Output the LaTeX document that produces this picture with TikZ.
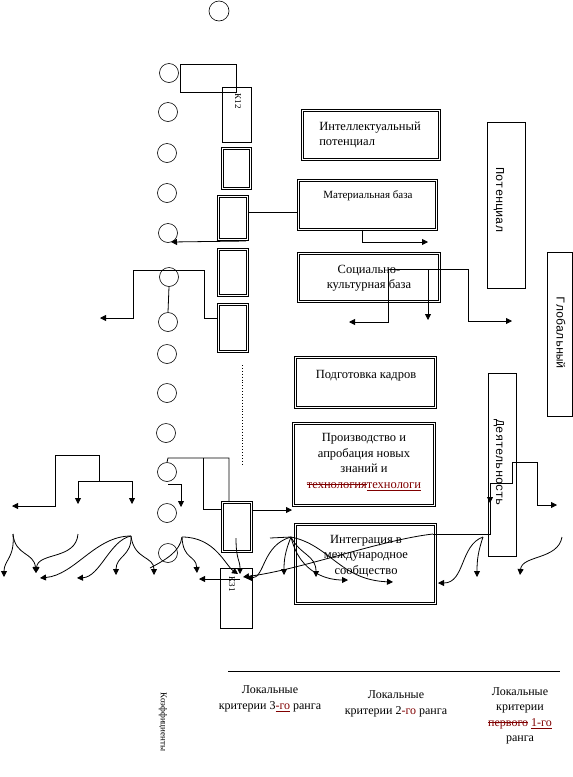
\documentclass[tikz,border=0pt]{standalone}
\usepackage{fontspec}
\setmainfont{Liberation Serif}
\newfontfamily\monof{Liberation Mono}
\usetikzlibrary{arrows.meta,calc}
\definecolor{dred}{RGB}{128,0,0}
\newsavebox\mytbox
\newcommand\mysout[1]{\sbox\mytbox{#1}\rlap{\rule[0.3em]{\wd\mytbox}{0.6pt}}\usebox\mytbox}
\newcommand\myuline[1]{\sbox\mytbox{#1}\rlap{\rule[-0.17em]{\wd\mytbox}{0.6pt}}\usebox\mytbox}
\begin{document}
\begin{tikzpicture}[x=1pt,y=-1pt,
  circ/.style={draw,circle,minimum size=19pt,inner sep=0pt,line width=0.6pt},
  sbox/.style={draw,rectangle,inner sep=0pt,line width=0.7pt},
  dbox/.style={draw,rectangle,inner sep=0pt,double,double distance=1.3pt,line width=0.7pt},
  ln/.style={line width=0.8pt},
  ar/.style={ln,-{Triangle[width=6pt,length=6pt]}},
  txt/.style={font=\fontsize{12.5}{15.5}\selectfont,align=center,inner sep=0pt},
  stxt/.style={font=\fontsize{11}{13}\selectfont,align=center,inner sep=0pt},
  vtxt/.style={font=\monof\fontsize{12}{14}\selectfont,rotate=-90,inner sep=0pt},
  btxt/.style={font=\fontsize{12}{15.5}\selectfont,align=center,inner sep=0pt}
]
\useasboundingbox (0,0) rectangle (573,777);

% circles
\node[circ,minimum size=20pt] (c0) at (219,11) {};
\node[circ] (c1) at (169,73) {};
\node[circ] (c2) at (168,112) {};
\node[circ] (c3) at (167,153) {};
\node[circ] (c4) at (167,193) {};
\node[circ] (c5) at (168,233) {};
\node[circ] (c6) at (169,277) {};
\node[circ] (c7) at (168,322) {};
\node[circ] (c8) at (167,354) {};
\node[circ] (c9) at (167,393) {};
\node[circ] (c10) at (166,433) {};
\node[circ] (c11) at (167,472) {};
\node[circ] (c12) at (167,513) {};
\node[circ] (c13) at (168,553) {};

% small boxes
\node[sbox,minimum width=56pt,minimum height=28pt] (R1) at (208,78) {};
\node[sbox,minimum width=29pt,minimum height=55pt] (R2) at (236.5,114.5) {};
\node[font=\fontsize{9}{10}\selectfont,rotate=-90,inner sep=0pt] (R2t) at (238,101) {К12};
\node[dbox,minimum width=28pt,minimum height=40pt] (R3) at (236.5,168.5) {};
\node[dbox,minimum width=29pt,minimum height=43pt] (R4) at (233,218) {};
\node[dbox,minimum width=29pt,minimum height=46pt] (R5) at (233,272.5) {};
\node[dbox,minimum width=29pt,minimum height=47pt] (R6) at (233,328) {};
\node[dbox,minimum width=29pt,minimum height=49pt] (R7) at (237,527) {};
\node[sbox,minimum width=32pt,minimum height=60pt] (R8) at (236,598) {};
\node[font=\fontsize{9}{10}\selectfont,rotate=-90,inner sep=0pt] (R8t) at (232,584) {К31};

% right boxes
\node[dbox,minimum width=137pt,minimum height=49pt] (B1) at (371,135) {};
\node[txt,align=left] (B1t) at (370,135) {Интеллектуальный\\потенциал};
\node[dbox,minimum width=138pt,minimum height=49pt] (B2) at (367.5,205) {};
\node[stxt] (B2t) at (368,196) {Материальная база};
\node[dbox,minimum width=141pt,minimum height=48pt] (B3) at (369,277.5) {};
\node[txt] (B3t) at (369,278) {Социально-\\культурная база};
\node[dbox,minimum width=140pt,minimum height=50pt] (B4) at (365.5,382.5) {};
\node[txt] (B4t) at (366,376) {Подготовка кадров};
\node[dbox,minimum width=141pt,minimum height=82pt] (B5) at (364,464.5) {};
\node[txt] (B5t) at (364,462) {Производство и\\апробация новых\\знаний и\\{\color{dred}\mysout{технология}\myuline{технологи}}};
\node[dbox,minimum width=140pt,minimum height=79pt] (B6) at (365.5,564) {};
\node[txt] (B6t) at (366,556) {Интеграция в\\международное\\сообщество};

% tall boxes
\node[sbox,minimum width=38pt,minimum height=166pt] (P) at (506,205) {};
\node[vtxt] (Pt) at (499,200) {Потенциал};
\node[sbox,minimum width=25pt,minimum height=164pt] (G) at (559.5,334) {};
\node[vtxt] (Gt) at (561,333) {Глобальный};
\node[sbox,minimum width=28pt,minimum height=183pt] (D) at (502,464.5) {};
\node[vtxt] (Dt) at (499,463) {Деятельность};

% bottom
\coordinate (L1) at (228,671);
\coordinate (L2) at (560,671);
\draw[line width=0.8pt] (L1) -- (L2);
\node[btxt] (T3) at (270,699) {Локальные\\критерии 3{\color{dred}\myuline{-го}} ранга};
\node[btxt] (T2) at (396,704) {Локальные\\критерии 2{\color{dred}-го} ранга};
\node[btxt] (T1) at (520,716) {Локальные\\критерии\\{\color{dred}\mysout{первого}~\myuline{1-го}}\\ранга};
\node[font=\fontsize{9}{10}\selectfont,rotate=-90,inner sep=0pt] (K) at (163,722) {Коэффициенты};

% dotted
\coordinate (d1) at (242,365);
\coordinate (d2) at (242,465);
\draw[dotted,line width=0.9pt] (d1) -- (d2);

% connectors upper
\draw[ln] (R4.east |- 0,212) -- (B2.west |- 0,212);
\draw[ar] (B2.south -| 362,0) |- (428,242);
\draw[ar] (246,241) -- (171,242);
\coordinate (j1) at (133,270);
\coordinate (j2) at (204,270);
\draw[ln] (j1) -- (j2) -- (204,318) -- (R6.west |- 0,318);
\draw[ar] (j1) -- (133,318) -- (100,318);
\draw[ln] (c6.south) -- (c7.north);
\coordinate (s1) at (388,269);
\coordinate (s2) at (468,269);
\draw[ln] (s1) -- (s2);
\draw[ar] (s1) -- (388,322) -- (349,322);
\draw[ar] (428,269) -- (428,320);
\draw[ar] (s2) -- (468,321) -- (512,321);

% connectors lower
\coordinate (k1) at (168,458);
\draw[ln] (c11.north) -- (k1) -- (229,458) -- (R7.north -| 229,0);
\draw[ln] (203,458) -- (203,509) -- (R7.west |- 0,509);
\draw[ar] (168,484) -- (181,484) -- (181,507);
\draw[ar] (R7.east |- 0,510) -- (292,510);

\draw[ln] (55,455) -- (99,455) -- (99,481);
\draw[ar] (55,455) -- (55,506) -- (12,506);
\draw[ln] (78,481) -- (132,481);
\draw[ar] (78,481) -- (78,504);
\draw[ar] (132,481) -- (132,504);

\draw[ar] (512,462) -- (537,462) -- (537,505) -- (557,505);
\draw[ln] (512,462) -- (512,483) -- (490,483) -- (490,534) -- (433,534);
\draw[ar] (490,490) -- (490,503);
\draw[ar] (433,534) .. controls (380,540) and (300,570) .. (243,577);

% curly arrows
\coordinate (h0) at (13,534);
\coordinate (h1) at (78,534);
\coordinate (h2) at (131,536);
\coordinate (h3) at (182,537);
\coordinate (h4) at (236,538);
\coordinate (h5) at (291,537);
\coordinate (h6) at (483,537);
\coordinate (h7) at (562,537);
\draw[ar] (h0) .. controls (15,558) and (4,560) .. (4,577);
\draw[ar] (h0) .. controls (15,556) and (34,552) .. (36,573);
\draw[ar] (h1) .. controls (76,560) and (38,552) .. (36,573);
\draw[ar] (h2) .. controls (95,536) and (75,575) .. (40,578);
\draw[ar] (h2) .. controls (110,540) and (100,577) .. (77,578);
\draw[ar] (h2) .. controls (132,556) and (116,556) .. (116,575);
\draw[ar] (h2) .. controls (134,560) and (154,556) .. (154,575);
\draw[ar] (h3) .. controls (183,560) and (196,555) .. (197,573);
\draw[ln] (h3) .. controls (180,552) and (165,560) .. (150,568);
\draw[ar] (h3) .. controls (215,537) and (225,565) .. (238,574);
\draw[ar] (h4) .. controls (236,560) and (240,560) .. (240,574);
\draw[ar] (240,579) -- (199,579);
\draw[ar] (h5) .. controls (285,552) and (284,560) .. (284,575);
\draw[ar] (h5) .. controls (262,545) and (265,578) .. (246,578);
\draw[ln] (270,538) -- (h5);
\draw[ar] (h5) .. controls (300,555) and (316,555) .. (316,577);
\draw[ar] (h5) .. controls (300,575) and (330,580) .. (348,580);
\draw[ar] (h5) .. controls (330,545) and (340,580) .. (393,582);
\draw[ar] (h6) .. controls (460,545) and (465,583) .. (438,583);
\draw[ar] (h6) .. controls (478,552) and (477,560) .. (477,577);
\draw[ar] (h7) .. controls (558,560) and (522,555) .. (520,575);
\end{tikzpicture}
\end{document}
